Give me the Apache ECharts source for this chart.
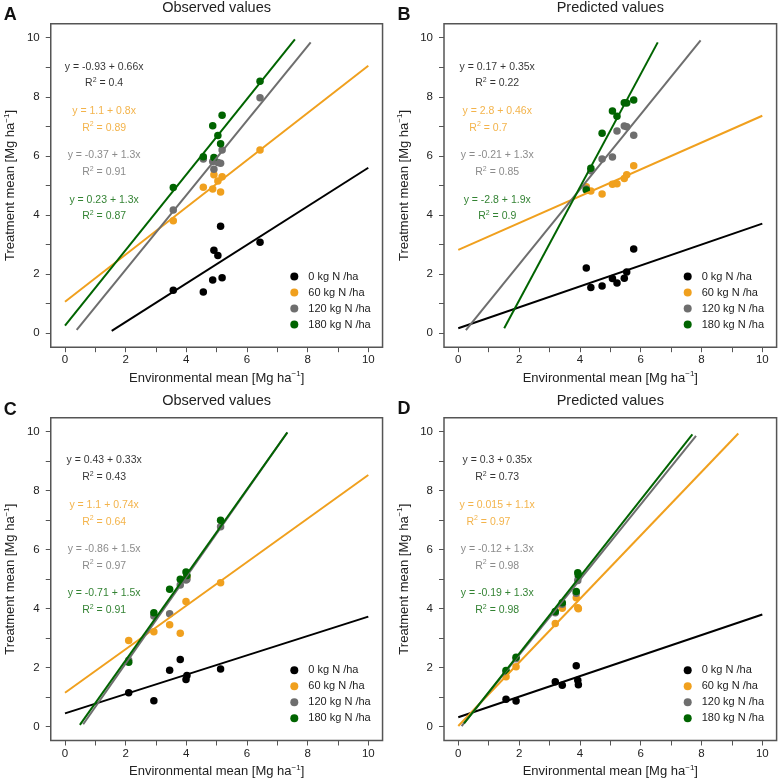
<!DOCTYPE html>
<html>
<head>
<meta charset="utf-8">
<script src="https://cdn.jsdelivr.net/npm/echarts@6/dist/echarts.min.js"></script>
<style>
  html, body { margin: 0; padding: 0; background: #fff; }
  #chart { width: 779px; height: 780px; }
</style>
</head>
<body>
<div id="chart"></div>
<script>
// treatment groups and colours
const groups = ['0 kg N /ha', '60 kg N /ha', '120 kg N /ha', '180 kg N /ha']
const colors = ['#000000', '#F0A01E', '#6E6E6E', '#006400']

// axis ticks
const tickValues = [0, 1, 2, 3, 4, 5, 6, 7, 8, 9, 10]
const tickLabels = [0, 2, 4, 6, 8, 10]

// A - observed values
const envA = [3.57, 4.56, 4.87, 4.91, 5.04, 5.13, 5.18, 6.43]
const A_0 = [1.46, 1.40, 1.80, 2.81, 2.63, 3.62, 1.88, 3.08]
const A_60 = [3.81, 4.94, 4.88, 5.36, 5.15, 4.78, 5.30, 6.20]
const A_120 = [4.17, 5.90, 5.81, 5.55, 5.78, 5.75, 6.20, 7.97]
const A_180 = [4.93, 5.97, 7.02, 5.95, 6.69, 6.41, 7.38, 8.53]
const fitA_int = [-0.92, 1.07, -0.37, 0.26]
const fitA_slope = [0.652, 0.798, 1.261, 1.278]
const fitA_from = [1.54, 0, 0.385, 0]
const fitA_to = [10, 10, 8.10, 7.58]
const eqA = ['y = -0.93 + 0.66x', 'y = 1.1 + 0.8x', 'y = -0.37 + 1.3x', 'y = 0.23 + 1.3x']
const r2A = ['0.4', '0.89', '0.91', '0.87']

// B - predicted values
const envB = [4.21, 4.36, 4.73, 5.07, 5.22, 5.46, 5.54, 5.77]
const B_0 = [2.21, 1.55, 1.60, 1.85, 1.70, 1.86, 2.07, 2.85]
const B_60 = [4.96, 4.81, 4.71, 5.04, 5.06, 5.24, 5.36, 5.67]
const B_120 = [4.88, 5.50, 5.90, 5.96, 6.84, 7.01, 6.99, 6.70]
const B_180 = [4.85, 5.58, 6.77, 7.52, 7.34, 7.80, 7.79, 7.89]
const fitB_int = [0.17, 2.82, -0.21, -2.72]
const fitB_slope = [0.354, 0.454, 1.27, 1.915]
const fitB_from = [0, 0, 0.25, 1.51]
const fitB_to = [10, 10, 7.97, 6.56]
const eqB = ['y = 0.17 + 0.35x', 'y = 2.8 + 0.46x', 'y = -0.21 + 1.3x', 'y = -2.8 + 1.9x']
const r2B = ['0.22', '0.7', '0.85', '0.9']

// C - observed values
const envC = [2.10, 2.93, 3.45, 3.80, 3.99, 4.02, 5.13]
const C_0 = [1.15, 0.88, 1.91, 2.28, 1.60, 1.73, 1.95]
const C_60 = [2.92, 3.22, 3.45, 3.17, 4.24, 5.08, 4.88]
const C_120 = [2.25, 3.75, 3.83, 4.80, 4.97, 5.00, 6.78]
const C_180 = [2.18, 3.86, 4.66, 5.00, 5.24, 5.12, 7.00]
const fitC_int = [0.45, 1.15, -0.80, -0.65]
const fitC_slope = [0.328, 0.738, 1.47, 1.449]
const fitC_from = [0, 0, 0.60, 0.49]
const fitC_to = [10, 10, 7.33, 7.33]
const eqC = ['y = 0.43 + 0.33x', 'y = 1.1 + 0.74x', 'y = -0.86 + 1.5x', 'y = -0.71 + 1.5x']
const r2C = ['0.43', '0.64', '0.97', '0.91']

// D - predicted values
const envD = [1.57, 1.90, 3.19, 3.42, 3.88, 3.93, 3.95]
const D_0 = [0.93, 0.87, 1.52, 1.40, 2.06, 1.57, 1.42]
const D_60 = [1.69, 2.03, 3.50, 4.01, 4.37, 4.03, 4.00]
const D_120 = [1.86, 2.30, 3.86, 4.15, 4.52, 4.95, 5.08]
const D_180 = [1.90, 2.35, 3.90, 4.20, 4.58, 5.22, 5.14]
const fitD_int = [0.32, 0.02, -0.12, -0.14]
const fitD_slope = [0.348, 1.077, 1.276, 1.305]
const fitD_from = [0, 0, 0.11, 0.19]
const fitD_to = [10, 9.21, 7.82, 7.70]
const eqD = ['y = 0.3 + 0.35x', 'y = 0.015 + 1.1x', 'y = -0.12 + 1.3x', 'y = -0.19 + 1.3x']
const r2D = ['0.73', '0.97', '0.98', '0.98']

// layout of the four panels
const panels = [
    { letter: 'A', title: 'Observed values', env: envA, vals: [A_0, A_60, A_120, A_180],
      int: fitA_int, slope: fitA_slope, from: fitA_from, to: fitA_to, eq: eqA, r2: r2A,
      grid: { left: 50.75, top: 23.8, width: 331.8, height: 323.4 },
      legend: [290.3, 270.5], letterPos: [10.3, 15.5], titlePos: [216.6, 7.5], eqX: 1.29, r2X: [1.29, 1.29, 1.29, 1.29] },
    { letter: 'B', title: 'Predicted values', env: envB, vals: [B_0, B_60, B_120, B_180],
      int: fitB_int, slope: fitB_slope, from: fitB_from, to: fitB_to, eq: eqB, r2: r2B,
      grid: { left: 444, top: 23.8, width: 332.6, height: 323.4 },
      legend: [683.7, 270.5], letterPos: [404, 15.5], titlePos: [610.3, 7.5], eqX: 1.28, r2X: [1.28, 0.99, 1.28, 1.28] },
    { letter: 'C', title: 'Observed values', env: envC, vals: [C_0, C_60, C_120, C_180],
      int: fitC_int, slope: fitC_slope, from: fitC_from, to: fitC_to, eq: eqC, r2: r2C,
      grid: { left: 50.75, top: 417.8, width: 331.8, height: 322.7 },
      legend: [290.3, 664.2], letterPos: [10.3, 409.7], titlePos: [216.6, 400.5], eqX: 1.29, r2X: [1.29, 1.29, 1.29, 1.29] },
    { letter: 'D', title: 'Predicted values', env: envD, vals: [D_0, D_60, D_120, D_180],
      int: fitD_int, slope: fitD_slope, from: fitD_from, to: fitD_to, eq: eqD, r2: r2D,
      grid: { left: 444, top: 417.8, width: 332.6, height: 322.7 },
      legend: [683.7, 664.2], letterPos: [404, 409.3], titlePos: [610.3, 400.5], eqX: 1.28, r2X: [1.28, 0.99, 1.28, 1.28] }
]
// y positions of the equation / R2 texts
const eqY = [9.02, 7.52, 6.02, 4.52]
const r2Y = [8.45, 6.95, 5.45, 3.95]

const font = '"Liberation Sans", Arial, sans-serif'
const supRich = { s: { fontSize: 8, padding: [0, 0, 8, 0] } }

const grid = [], xAxis = [], yAxis = [], series = [], legend = [], graphic = []

panels.forEach((p, i) => {
    grid.push(Object.assign({ show: true, borderColor: '#555', borderWidth: 1.5, backgroundColor: 'transparent' }, p.grid))
    const axisCommon = {
        gridIndex: i,
        type: 'value',
        min: -0.47,
        max: 10.47,
        nameLocation: 'middle',
        nameTextStyle: { fontSize: 13, color: '#222', fontFamily: font, rich: supRich },
        axisLine: { show: false, onZero: false },
        axisTick: { show: true, customValues: tickValues, length: 5, lineStyle: { color: '#555', width: 1 } },
        axisLabel: { customValues: tickLabels, fontSize: 11.5, color: '#222', fontFamily: font },
        splitLine: { show: false }
    }
    xAxis.push(Object.assign({}, axisCommon, {
        name: 'Environmental mean [Mg ha{s|\u22121}]',
        nameGap: 23,
        axisLabel: Object.assign({}, axisCommon.axisLabel, { margin: 7 })
    }))
    yAxis.push(Object.assign({}, axisCommon, {
        name: 'Treatment mean [Mg ha{s|\u22121}]',
        nameGap: 32,
        axisLabel: Object.assign({}, axisCommon.axisLabel, { margin: 11 })
    }))

    // points
    groups.forEach((g, k) => {
        series.push({
            name: g,
            type: 'scatter',
            xAxisIndex: i,
            yAxisIndex: i,
            symbol: 'circle',
            symbolSize: 7.5,
            itemStyle: { color: colors[k], opacity: 1 },
            data: p.env.map((x, j) => [x, p.vals[k][j]]),
            z: 2
        })
    })
    // fitted lines
    groups.forEach((g, k) => {
        const a = p.int[k], b = p.slope[k]
        series.push({
            name: 'fit ' + g,
            type: 'line',
            xAxisIndex: i,
            yAxisIndex: i,
            symbol: 'none',
            silent: true,
            lineStyle: { color: colors[k], width: 2 },
            data: [[p.from[k], a + b * p.from[k]], [p.to[k], a + b * p.to[k]]],
            z: 3
        })
    })
    // equation texts
    const texts = []
    groups.forEach((g, k) => {
        texts.push({ name: p.eq[k], value: [p.eqX, eqY[k]], label: { color: colors[k] } })
        texts.push({ name: 'R{s|2} = ' + p.r2[k], value: [p.r2X[k], r2Y[k]], label: { color: colors[k] } })
    })
    series.push({
        name: 'equations',
        type: 'scatter',
        xAxisIndex: i,
        yAxisIndex: i,
        symbolSize: 0,
        silent: true,
        label: {
            show: true,
            position: 'inside',
            formatter: '{b}',
            fontSize: 10.5,
            fontFamily: font,
            rich: { s: { fontSize: 7, padding: [0, 0, 7, 0] } }
        },
        data: texts,
        z: 4
    })

    legend.push({
        data: groups,
        orient: 'vertical',
        left: p.legend[0],
        top: p.legend[1],
        icon: 'circle',
        itemWidth: 18,
        itemHeight: 8,
        itemGap: 4,
        padding: 0,
        selectedMode: false,
        textStyle: { fontSize: 11, color: '#222', fontFamily: font, lineHeight: 12 }
    })

    graphic.push({
        type: 'text', x: p.letterPos[0], y: p.letterPos[1],
        style: { text: p.letter, fontSize: 18, fontWeight: 'bold', fontFamily: font, fill: '#111', align: 'center', verticalAlign: 'middle' }
    })
    graphic.push({
        type: 'text', x: p.titlePos[0], y: p.titlePos[1],
        style: { text: p.title, fontSize: 14.5, fontFamily: font, fill: '#222', align: 'center', verticalAlign: 'middle' }
    })
})

const chartInstance = echarts.init(document.getElementById('chart'), null, { renderer: 'canvas' })
chartInstance.setOption({
    animation: false,
    backgroundColor: '#fff',
    grid: grid,
    xAxis: xAxis,
    yAxis: yAxis,
    legend: legend,
    graphic: graphic,
    series: series
})
</script>
</body>
</html>
